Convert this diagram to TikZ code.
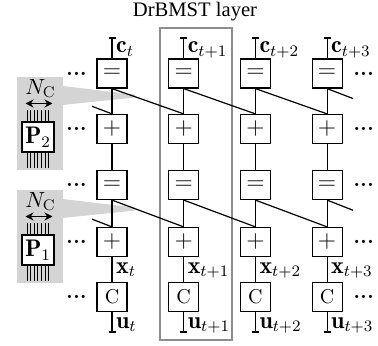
\documentclass[tikz,border=0pt]{standalone}
\usepackage{fontspec}
\newfontfamily\titlefont{Liberation Serif}
\usetikzlibrary{arrows.meta, positioning, calc}

\tikzset{
  blk/.style={draw, fill=white, minimum width=15pt, minimum height=14.5pt,
              inner sep=0pt, font=\large},
  lbl/.style={anchor=base west, inner sep=0pt, font=\large},
  dts/.style={inner sep=0pt, font=\fontsize{11}{12}\selectfont\bfseries},
  zoomfill/.style={fill=black!17}
}

\begin{document}
\begin{tikzpicture}[>=Stealth, x=0.5pt, y=-0.5pt, line width=0.6pt]
  \useasboundingbox (0,0) rectangle (378,346);

  % callout panels for the parity-check blocks
  \foreach \p/\py in {2/77, 1/190} {
    \fill[zoomfill] (17,\py) rectangle (62.5,\py+93);
    \fill[zoomfill] (62.5,\py+9) -- (135,\py+17.5) -- (135,\py+20.5)
                    -- (62.5,\py+28) -- cycle;
    \node[anchor=base, inner sep=0pt, font=\fontsize{11}{12}\selectfont]
      (nc\p) at (40.5,\py+17.5) {$N_{\mathrm{C}}$};
    \draw[line width=0.7pt, {Stealth[length=4pt, width=4pt]}-{Stealth[length=4pt, width=4pt]}]
      (25.5,\py+26.5) -- (52.5,\py+26.5);
    \foreach \k in {0,...,6}
      \draw[line width=0.5pt] (27+3.6*\k,\py+33) -- (27+3.6*\k,\py+91);
    \node[draw, fill=white, minimum width=16pt, minimum height=15pt,
          inner sep=0pt, font=\large]
      (P\p) at (38,\py+60) {$\mathbf{P}_{\p}$};
  }

  % layer frame
  \draw[black!45, line width=0.7pt] (160,28) rectangle (232,340);
  \node[anchor=base, inner sep=0pt, font=\titlefont\fontsize{10.3}{12}\selectfont]
    (ttl) at (195,17) {DrBMST layer};

  % columns
  \foreach \i/\s in {0/t, 1/t+1, 2/t+2, 3/t+3} {
    \pgfmathsetmacro\cx{112+71.7*\i}
    \coordinate (top\i) at (\cx,38);
    \coordinate (bot\i) at (\cx,332);
    \draw (top\i) -- (bot\i);
    \draw (\cx-3.5,38) -- (\cx+3.5,38);
    \draw (\cx-3.5,332) -- (\cx+3.5,332);
    \node[blk] (eqa\i) at (\cx,73.5) {$=$};
    \node[blk] (adda\i) at (\cx,129) {$+$};
    \node[blk] (eqb\i) at (\cx,185) {$=$};
    \node[blk] (addb\i) at (\cx,242) {$+$};
    \node[blk, font=\normalsize] (cc\i) at (\cx,297) {C};
    \node[lbl] (c\i) at (\cx+3.5,53) {$\mathbf{c}_{\s}$};
    \node[lbl] (x\i) at (\cx+3.5,273) {$\mathbf{x}_{\s}$};
    \node[lbl] (u\i) at (\cx+3.5,328) {$\mathbf{u}_{\s}$};
  }

  % diagonal connections
  \foreach \i/\j in {0/1, 1/2, 2/3} {
    \draw (eqa\i.south) -- (adda\j.north);
    \draw (eqb\i.south) -- (addb\j.north);
  }
  \coordinate (ina) at ($(adda0.north)+(-20,-7.6)$);
  \coordinate (inb) at ($(addb0.north)+(-20,-7.8)$);
  \coordinate (outa) at ($(eqa3.south)+(26,10)$);
  \coordinate (outb) at ($(eqb3.south)+(26,10.2)$);
  \draw (ina) -- (adda0.north);
  \draw (inb) -- (addb0.north);
  \draw (eqa3.south) -- (outa);
  \draw (eqb3.south) -- (outb);

  % continuation dots
  \foreach \r in {eqa, adda, eqb, addb, cc} {
    \node[dts, left=4.5pt of \r0] (l\r) {...};
    \node[dts, right=5pt of \r3] (r\r) {...};
  }
\end{tikzpicture}
\end{document}
